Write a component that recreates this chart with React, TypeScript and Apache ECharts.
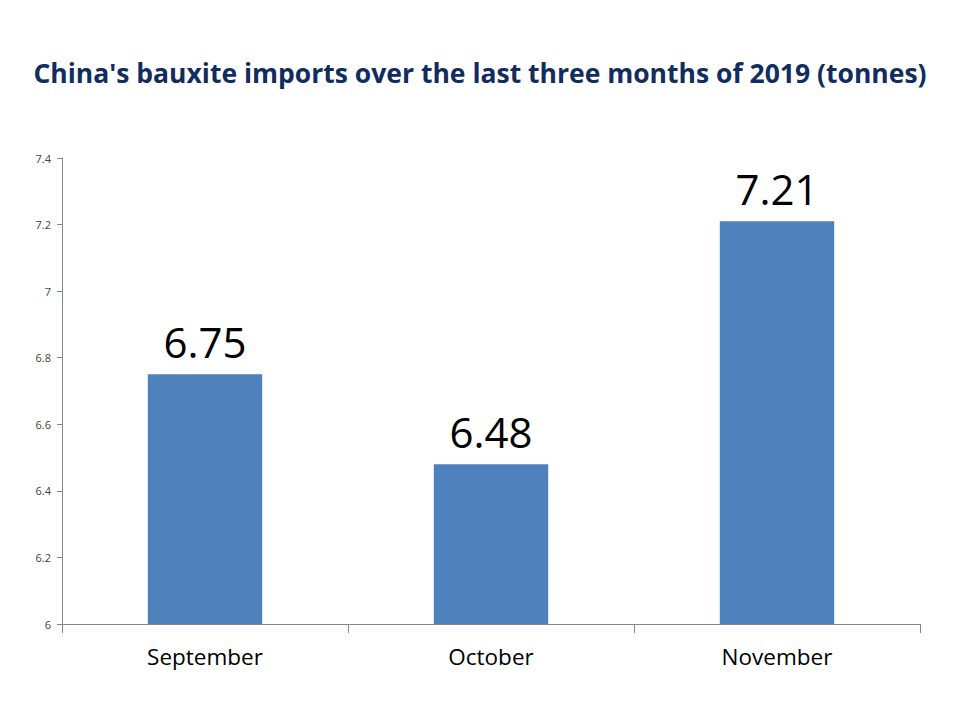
import { useEffect, useRef } from "react"
import * as echarts from "echarts"

const months = ["September", "October", "November"]
const imports = [6.75, 6.48, 7.21]

const TITLE = "China's bauxite imports over the last three months of 2019 (tonnes)"
const AXIS_GREY = "#868686"

export default function App() {
  const ref = useRef<HTMLDivElement>(null)

  useEffect(() => {
    if (!ref.current) return
    const chart = echarts.init(ref.current, undefined, { renderer: "svg" })
    chart.setOption({
      animation: false,
      backgroundColor: "#ffffff",
      title: {
        text: TITLE,
        left: "center",
        top: 54,
        textStyle: {
          fontFamily: "Open Sans",
          fontWeight: "bold",
          fontSize: 26.5,
          color: "#112c5f",
        },
      },
      grid: { left: 62, right: 40, top: 158, bottom: 96 },
      xAxis: {
        type: "category",
        data: months,
        boundaryGap: true,
        axisLine: { lineStyle: { color: AXIS_GREY, width: 1 } },
        axisTick: { show: true, length: 9, lineStyle: { color: AXIS_GREY } },
        axisLabel: {
          fontFamily: "Open Sans",
          fontSize: 22.5,
          color: "#000000",
          margin: 21,
        },
      },
      yAxis: {
        type: "value",
        min: 6,
        max: 7.4,
        interval: 0.2,
        splitLine: { show: false },
        axisLine: { show: true, lineStyle: { color: AXIS_GREY, width: 1 } },
        axisTick: { show: true, length: 5, lineStyle: { color: AXIS_GREY } },
        axisLabel: {
          fontFamily: "Open Sans",
          fontSize: 11,
          color: "#404040",
          margin: 11,
        },
      },
      series: [
        {
          type: "bar",
          data: imports,
          barWidth: "40%",
          itemStyle: { color: "#4f81bd" },
          label: {
            show: true,
            position: "top",
            distance: 12,
            fontFamily: "Open Sans",
            fontSize: 42,
            color: "#000000",
          },
        },
      ],
    })
    return () => chart.dispose()
  }, [])

  return (
    <div
      ref={ref}
      style={{ position: "absolute", left: 0, top: 0, width: 960, height: 720 }}
    />
  )
}
